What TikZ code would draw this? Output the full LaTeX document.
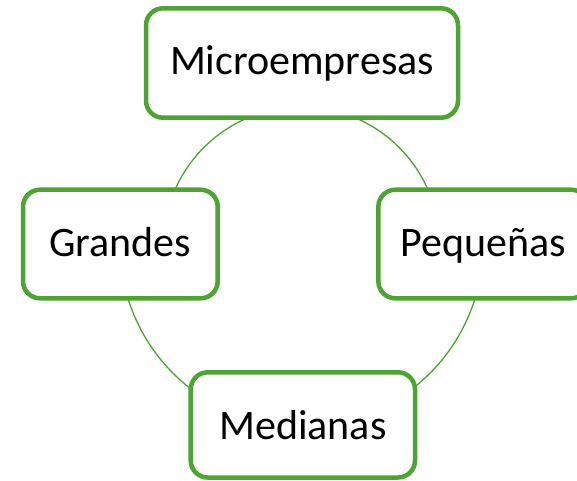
\documentclass[tikz,border=0pt]{standalone}
\usepackage{fontspec}
\setmainfont{Carlito}
\usetikzlibrary{calc}
\definecolor{sagreen}{RGB}{78,164,50}
\begin{document}
\begin{tikzpicture}[x=1pt,y=-1pt,
  ring/.style={draw=sagreen,line width=1.3pt},
  catbox/.style={draw=sagreen,line width=4.5pt,fill=white,rounded corners=17pt,
    inner sep=0pt,outer sep=0pt,text height=30pt,
    font=\fontsize{42}{50}\selectfont}]
\clip (0,0) rectangle (577,480);
\fill[white] (0,0) rectangle (577,480);
\coordinate (c) at (301.5,245);
% connecting arcs of the cycle (drawn below the boxes)
\draw[ring] ($(c)+(180:138)$) arc[start angle=180,end angle=360,radius=138];
\draw[ring] ($(c)+(180:181.5)$) arc[start angle=180,end angle=0,radius=181.5];
% boxes
\node[catbox,minimum width=312pt,minimum height=109.4pt,text depth=8pt] (micro) at (302,63) {Microempresas};
\node[catbox,minimum width=194.7pt,minimum height=108.6pt,text depth=6pt] (grandes) at (120.35,244) {Grandes};
\node[catbox,minimum width=209.7pt,minimum height=108.6pt,text depth=6pt] (pequenas) at (483.2,244) {Pequeñas};
\node[catbox,minimum width=224.3pt,minimum height=105.2pt,text depth=1.2pt] (medianas) at (302.85,424.9) {Medianas};
\end{tikzpicture}
\end{document}
